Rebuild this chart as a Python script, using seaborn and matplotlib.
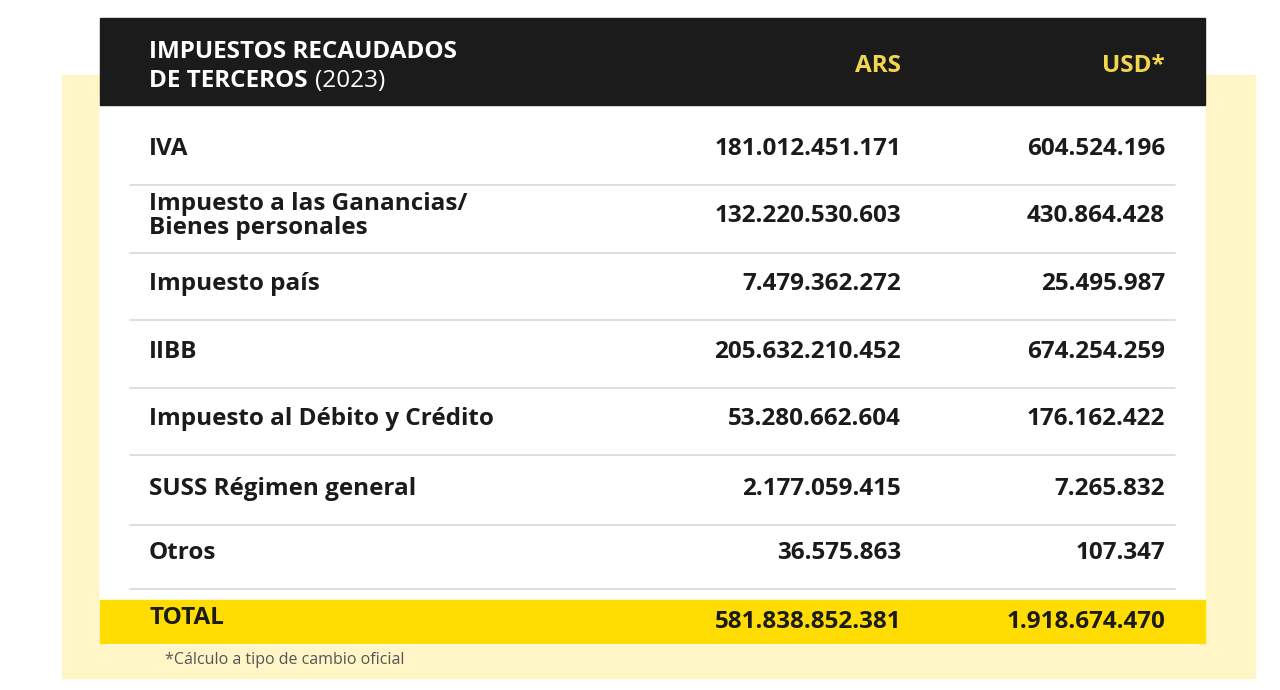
import matplotlib.pyplot as plt
import seaborn as sns
from matplotlib.patches import Rectangle, FancyBboxPatch

# table data
conceptos = ["IVA", "Impuesto a las Ganancias/\nBienes personales", "Impuesto país", "IIBB",
             "Impuesto al Débito y Crédito", "SUSS Régimen general", "Otros"]
ars = ["181.012.451.171", "132.220.530.603", "7.479.362.272", "205.632.210.452",
       "53.280.662.604", "2.177.059.415", "36.575.863"]
usd = ["604.524.196", "430.864.428", "25.495.987", "674.254.259",
       "176.162.422", "7.265.832", "107.347"]
total_ars = "581.838.852.381"
total_usd = "1.918.674.470"

sns.set_theme(style="white")
plt.rcParams['font.family'] = ['Open Sans', 'DejaVu Sans']

fig = plt.figure(figsize=(12.8, 6.9), dpi=100)
ax = fig.add_axes([0, 0, 1, 1])
ax.set_xlim(0, 1280)
ax.set_ylim(690, 0)
ax.axis("off")

fs = 17.5
dark = "#1B1B1B"

# background panels
ax.add_patch(Rectangle((62, 75), 1193, 603, color="#FFF5C6", zorder=0))
ax.add_patch(FancyBboxPatch((100, 90), 1105, 555, boxstyle="round,pad=0,rounding_size=12",
                            color="white", zorder=1))
ax.add_patch(Rectangle((100, 18), 1105, 87, color=dark, zorder=2))

# header
ax.text(149, 52, "IMPUESTOS RECAUDADOS", color="white", fontsize=17.5, fontweight="bold",
        va="center", zorder=3)
t = ax.text(149, 81, "DE TERCEROS", color="white", fontsize=17.5, fontweight="bold", va="center", zorder=3)
fig.canvas.draw()
bb = t.get_window_extent()
ax.text(bb.x1 + 8, 81, "(2023)", color="white", fontsize=17.5, va="center", zorder=3,
        transform=None) if False else None
x_end = ax.transData.inverted().transform((bb.x1, 0))[0]
ax.text(x_end + 7, 81, "(2023)", color="white", fontsize=17.5, va="center", zorder=3)
ax.text(901, 66, "ARS", color="#F2D64B", fontsize=17.5, fontweight="bold", ha="right", va="center", zorder=3)
ax.text(1165, 66, "USD*", color="#F2D64B", fontsize=17.5, fontweight="bold", ha="right", va="center", zorder=3)

# rows
ys = [149, 216, 284, 352, 419, 489, 553]
for i, (c, a, u) in enumerate(zip(conceptos, ars, usd)):
    y = ys[i]
    ax.text(149, y, c, color=dark, fontsize=fs, fontweight="bold", va="center",
            linespacing=1.0, zorder=3)
    ax.text(901, y, a, color=dark, fontsize=fs, fontweight="bold", ha="right", va="center", zorder=3)
    ax.text(1165, y, u, color=dark, fontsize=fs, fontweight="bold", ha="right", va="center", zorder=3)
    ly = y + 36 if i != 1 else 253
    ax.plot([130, 1175], [ly, ly], color="#D9D9D9", lw=1.2, zorder=3)

# total
ax.add_patch(Rectangle((100, 600), 1105, 43, color="#FFDD00", zorder=2))
ax.text(149, 618, "TOTAL", color=dark, fontsize=fs, fontweight="bold", va="center", zorder=3)
ax.text(901, 622, total_ars, color=dark, fontsize=fs, fontweight="bold", ha="right", va="center", zorder=3)
ax.text(1165, 622, total_usd, color=dark, fontsize=fs, fontweight="bold", ha="right", va="center", zorder=3)

ax.text(165, 660, "*Cálculo a tipo de cambio oficial", color="#555555", fontsize=11.5, va="center", zorder=3)

fig.savefig("out.png", dpi=100)
